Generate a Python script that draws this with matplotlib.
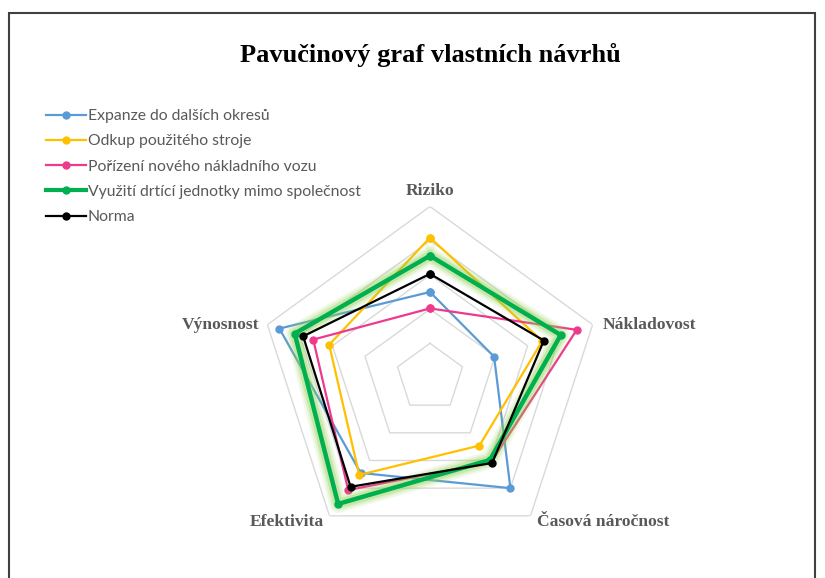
import numpy as np
import matplotlib
matplotlib.use("Agg")
import matplotlib.pyplot as plt
from matplotlib.lines import Line2D
from matplotlib.patches import Rectangle

categories = ["Riziko", "Nákladovost", "Časová náročnost", "Efektivita", "Výnosnost"]
series_names = [
    "Expanze do dalších okresů",
    "Odkup použitého stroje",
    "Pořízení nového nákladního vozu",
    "Využití drtící jednotky mimo společnost",
    "Norma",
]
expanze = [2.5, 1.97, 4.0, 3.45, 4.63]
odkup = [4.09, 3.45, 2.46, 3.52, 3.1]
porizeni = [2.02, 4.51, 3.05, 4.07, 3.59]
vyuziti = [3.56, 4.02, 2.98, 4.57, 4.16]
norma = [3.03, 3.5, 3.09, 3.95, 3.9]
rings = [1, 2, 3, 4, 5]

colors = ["#5B9BD5", "#FFC000", "#EE3A8C", "#00B050", "#000000"]
values = [expanze, odkup, porizeni, vyuziti, norma]

W, H = 825, 578
fig = plt.figure(figsize=(W / 100, H / 100), dpi=100)
fig.patch.set_facecolor("white")

# outer frame
fig.patches.append(Rectangle((9 / W, -0.05), (815 - 9) / W, 1.05 - 13 / H,
                             transform=fig.transFigure, fill=False,
                             edgecolor="#404040", linewidth=1.5))

cx, cy, R = 430, 377.5, 171
ax = fig.add_axes([(cx - R) / W, (H - cy - R) / H, 2 * R / W, 2 * R / H],
                  projection="polar")
ax.set_theta_offset(np.pi / 2)
ax.set_theta_direction(-1)
ax.set_ylim(0, 5)
ax.grid(False)
ax.spines["polar"].set_visible(False)
ax.set_xticks([])
ax.set_yticks([])
ax.patch.set_alpha(0)

n = len(categories)
theta = np.linspace(0, 2 * np.pi, n, endpoint=False)
theta_c = np.append(theta, theta[0])

for r in rings:
    ax.plot(theta_c, [r] * (n + 1), color="#D9D9D9", lw=1.0, zorder=1)

for i, (name, vals, col) in enumerate(zip(series_names, values, colors)):
    v = np.append(vals, vals[0])
    if i == 3:
        for lw, a in [(13, 0.12), (10, 0.18), (7, 0.3)]:
            ax.plot(theta_c, v, color="#92D050", lw=lw, alpha=a,
                    solid_joinstyle="round", zorder=2 + i)
        ax.plot(theta_c, v, color=col, lw=3.2, marker="o", ms=5,
                solid_joinstyle="miter", zorder=2 + i)
    else:
        ax.plot(theta_c, v, color=col, lw=1.6, marker="o", ms=5,
                solid_joinstyle="miter", zorder=2 + i)

label_font = dict(family="Liberation Serif", fontweight="bold", fontsize=12.6,
                  color="#595959")
offsets = [((0, 16), "center", "center"),
           ((10, 0), "left", "center"),
           ((6, -6), "left", "center"),
           ((-6, -6), "right", "center"),
           ((-8, 0), "right", "center")]
for t, lab, (off, ha, va) in zip(theta, categories, offsets):
    ax.annotate(lab, xy=(t, 5), xytext=off, textcoords="offset pixels",
                ha=ha, va=va, annotation_clip=False, **label_font)

fig.text(cx / W, 1 - 55 / H, "Pavučinový graf vlastních návrhů",
         ha="center", va="center", family="Liberation Serif",
         fontweight="bold", fontsize=19, color="#000000")

handles = []
for i, col in enumerate(colors):
    handles.append(Line2D([0], [0], color=col, lw=3.0 if i == 3 else 1.6,
                          marker="o", ms=5))
leg = fig.legend(handles, series_names, loc="upper left",
                 bbox_to_anchor=(46 / W, 1 - 109 / H), frameon=False,
                 borderpad=0, borderaxespad=0, handlelength=2.55,
                 handletextpad=0.12, labelspacing=0.72,
                 prop=dict(family="Lato", size=11.3))
for t in leg.get_texts():
    t.set_color("#595959")

fig.savefig("out.png", dpi=100, facecolor="white")
